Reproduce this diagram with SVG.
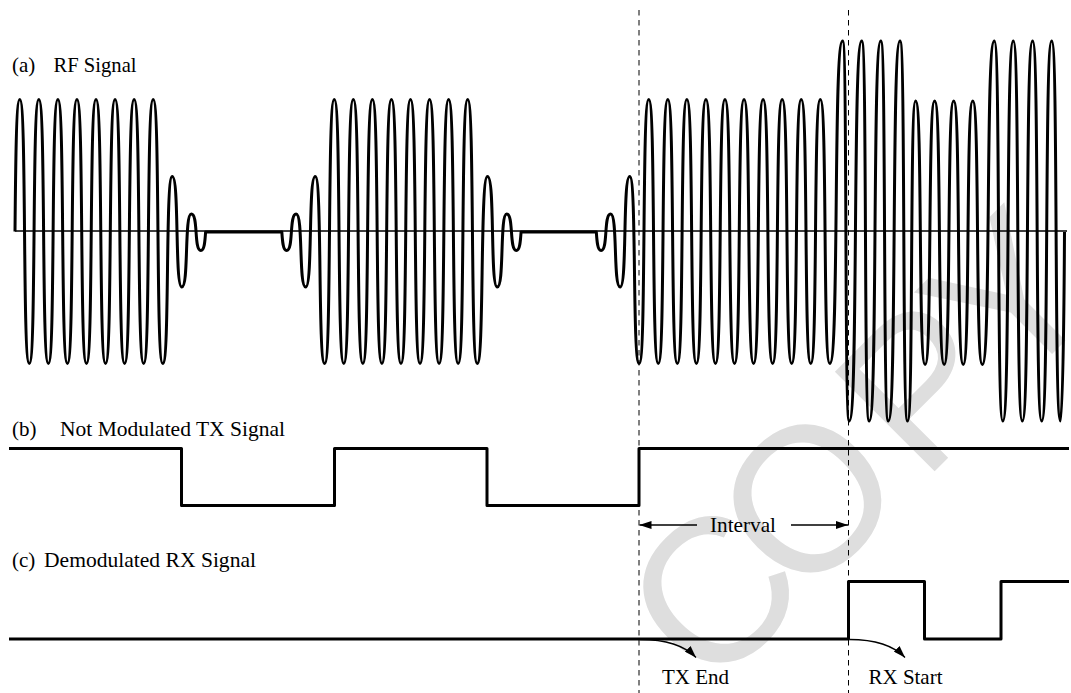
<svg xmlns="http://www.w3.org/2000/svg" width="1071" height="693" viewBox="0 0 1071 693">
<style>
.lbl{font-family:"Liberation Serif","Times New Roman",serif;font-size:21px;fill:#000}
.sig{fill:none;stroke:#000;stroke-width:3;stroke-linejoin:round}
.thin{fill:none;stroke:#000;stroke-width:1.3}
.dash{fill:none;stroke:#000;stroke-width:1;stroke-dasharray:5.5 4.5}
.wm{font-family:"Liberation Sans",Arial,sans-serif;font-size:205px;fill:#dedede}
</style>
<defs>
<marker id="ah" viewBox="0 0 12 8" refX="12" refY="4" markerWidth="12" markerHeight="8" markerUnits="userSpaceOnUse" orient="auto"><path d="M0,0 L12,4 L0,8 z" fill="#000"/></marker>
</defs>
<rect width="1071" height="693" fill="#fff"/>
<g id="watermark"><text class="wm" transform="translate(763,643) rotate(-45)" x="-74 54 226 350" y="0">COPY</text></g>

<g id="rf-signal">
<line class="thin" x1="15" y1="231" x2="1067" y2="231"/>
<path class="sig" d="M15,231.5 C15.6,165.5 16.19,99.5 19.77,99.5
C26.92,99.5 22.15,363.5 29.3,363.5
S31.68,99.5 38.83,99.5 S41.21,363.5 48.36,363.5 S50.74,99.5 57.89,99.5 S60.27,363.5 67.42,363.5
S69.8,99.5 76.95,99.5 S79.33,363.5 86.48,363.5 S88.86,99.5 96.01,99.5 S98.39,363.5 105.54,363.5
S107.92,99.5 115.07,99.5 S117.45,363.5 124.6,363.5 S126.98,99.5 134.13,99.5 S136.51,363.5 143.66,363.5
S146.04,99.5 153.19,99.5 S155.57,363.5 162.72,363.5
S165.1,176.5 172.25,176.5 S174.63,287 181.78,287 S184.16,214 191.31,214 S193.69,250.5 200.84,250.5
C204.41,250.5 205.01,241.25 205.6,232 L281.84,232
C282.44,241.25 283.03,250.5 286.61,250.5
C293.76,250.5 288.99,214 296.14,214
S298.52,287 305.67,287 S308.05,176.5 315.2,176.5
S317.58,363.5 324.73,363.5 S327.11,99.5 334.26,99.5 S336.64,363.5 343.79,363.5 S346.17,99.5 353.32,99.5
S355.7,363.5 362.85,363.5 S365.23,99.5 372.38,99.5 S374.76,363.5 381.91,363.5 S384.29,99.5 391.44,99.5
S393.82,363.5 400.97,363.5 S403.35,99.5 410.5,99.5 S412.88,363.5 420.03,363.5 S422.41,99.5 429.56,99.5
S431.94,363.5 439.09,363.5 S441.47,99.5 448.62,99.5 S451,363.5 458.15,363.5 S460.53,99.5 467.68,99.5
S470.06,363.5 477.21,363.5
S479.8,176.5 487.5,176.5 S489.92,287 497.2,287 S499.57,214 506.7,214 S509.1,250.5 516.3,250.5
C519.87,250.5 520.47,241.25 521.06,232 L596.33,232
C596.93,241.25 597.52,250.5 601.1,250.5
C608.25,250.5 603.48,214 610.63,214
S613.01,287 620.16,287 S622.54,176.5 629.69,176.5
S632.07,363.5 639.22,363.5 S641.6,99.5 648.75,99.5 S651.13,363.5 658.28,363.5 S660.66,99.5 667.81,99.5
S670.19,363.5 677.34,363.5 S679.72,99.5 686.87,99.5 S689.25,363.5 696.4,363.5 S698.78,99.5 705.93,99.5
S708.31,363.5 715.46,363.5 S717.84,99.5 724.99,99.5 S727.37,363.5 734.52,363.5 S736.9,99.5 744.05,99.5
S746.43,363.5 753.58,363.5 S755.96,99.5 763.11,99.5 S765.49,363.5 772.64,363.5 S775.02,99.5 782.17,99.5
S784.55,363.5 791.7,363.5 S794.08,99.5 801.23,99.5 S803.61,363.5 810.76,363.5 S813.14,99.5 820.29,99.5
S822.67,363.5 829.82,363.5
C839.41,363.5 833.01,41 842.6,41
C847.55,41 844.25,421 849.2,421
C858.58,421 852.32,41 861.7,41
C867.33,41 863.57,421 869.2,421
C877.9,421 872.1,41 880.8,41
C886.43,41 882.67,421 888.3,421
C897.08,421 891.22,41 900,41
C905.7,41 901.9,421 907.6,421
C913.6,421 909.6,101 915.6,101
C922.73,101 917.97,364.5 925.1,364.5
S927.52,101 934.65,101 S937.05,364.5 944.18,364.5 S946.58,101 953.71,101 S956.11,364.5 963.24,364.5
S965.64,101 972.77,101 S975.17,364.5 982.3,364.5
C991.3,364.5 985.3,41 994.3,41
C1000.68,41 996.42,421 1002.8,421
C1010.68,421 1005.42,41 1013.3,41
C1020.05,41 1015.55,421 1022.3,421
C1030.03,421 1024.87,41 1032.6,41
C1039.43,41 1034.87,421 1041.7,421
C1049.2,421 1044.2,41 1051.7,41
C1058.3,41 1053.9,421 1060.5,421
C1062.5,421 1064,326.5 1064.5,232"/>
</g>

<g id="tx-signal">
<path class="sig" d="M9,448.5 H181.5 V505.5 H334.5 V448.5 H487 V505.5 H639 V448.5 H1069"/>
</g>

<g id="rx-signal">
<path class="sig" d="M9,639 H848.5 V581.5 H924.5 V639 H1001 V581.5 H1069"/>
</g>

<g id="labels">
<text class="lbl" x="12" y="72">(a)</text>
<text class="lbl" x="53.5" y="72" textLength="83" lengthAdjust="spacingAndGlyphs">RF Signal</text>
<text class="lbl" x="12" y="435.5">(b)</text>
<text class="lbl" x="60" y="435.5" textLength="225" lengthAdjust="spacingAndGlyphs">Not Modulated TX Signal</text>
<text class="lbl" x="12" y="567">(c)</text>
<text class="lbl" x="44" y="567" textLength="212" lengthAdjust="spacingAndGlyphs">Demodulated RX Signal</text>
<text class="lbl" x="710" y="531.5" textLength="66" lengthAdjust="spacingAndGlyphs">Interval</text>
<text class="lbl" x="662" y="684" textLength="67" lengthAdjust="spacingAndGlyphs">TX End</text>
<text class="lbl" x="868.5" y="684" textLength="74" lengthAdjust="spacingAndGlyphs">RX Start</text>
</g>

<g id="connectors">
<line class="dash" x1="639" y1="10" x2="639" y2="693"/>
<line class="dash" x1="848.5" y1="10" x2="848.5" y2="693"/>
<line class="thin" x1="697" y1="525" x2="639.5" y2="525" marker-end="url(#ah)"/>
<line class="thin" x1="791" y1="525" x2="848" y2="525" marker-end="url(#ah)"/>
<path class="thin" d="M640,639.5 C665,639.5 684,645 696,657.5" marker-end="url(#ah)"/>
<path class="thin" d="M849.5,639.5 C874,639.5 893,645 905,657.5" marker-end="url(#ah)"/>
</g>
</svg>
